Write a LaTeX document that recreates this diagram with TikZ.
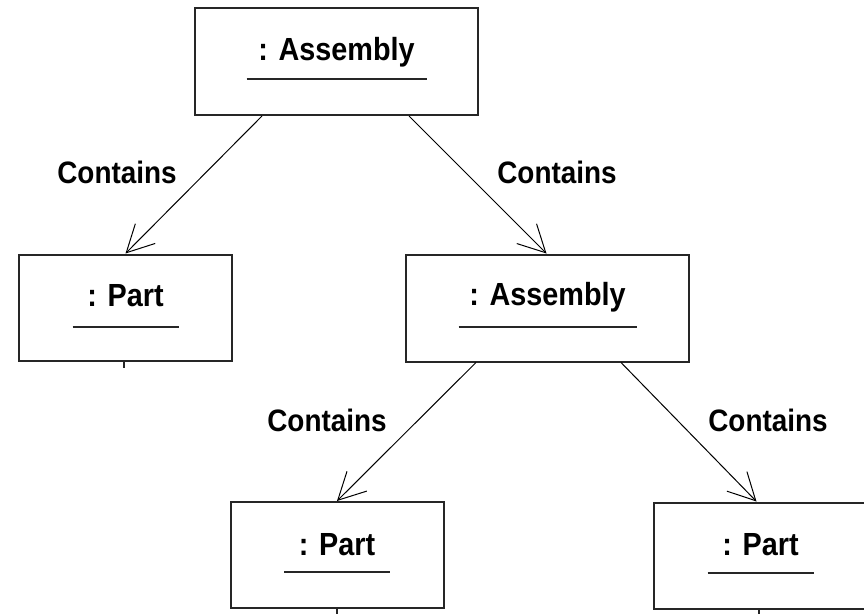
\documentclass[tikz,border=0pt]{standalone}
\usepackage{fontspec}
\newfontfamily\uifont{Liberation Sans}[FakeStretch=0.9]
\usetikzlibrary{arrows.meta}

\tikzset{
  objbox/.style={draw=black!85, line width=2pt, inner sep=0pt, fill=white},
  wide/.style={objbox, minimum width=283pt, minimum height=107pt},
  narrow/.style={objbox, minimum width=213pt, minimum height=106pt},
  objname/.style={font=\uifont\bfseries\fontsize{32}{36}\selectfont, inner sep=0pt, anchor=base},
  uline/.style={line width=2pt, draw=black!85},
  tick/.style={line width=1.5pt, draw=black!85},
  contains/.style={draw=black, line width=1pt,
    -{Straight Barb[length=27pt, width=28pt, line width=1pt]}},
  rolename/.style={font=\uifont\bfseries\fontsize{31}{36}\selectfont, inner sep=0pt, anchor=base}
}

\begin{document}
\begin{tikzpicture}[x=1pt, y=-1pt]
  \useasboundingbox[fill=white] (0,0) rectangle (864,613);

  % object boxes
  \node[wide]   (asm1)  at (336.5, 61.5) {};
  \node[narrow] (part1) at (125.5, 307.5) {};
  \node[wide]   (asm2)  at (547.5, 308) {};
  \node[narrow] (part2) at (337, 555) {};
  \node[narrow] (part3) at (760.5, 555.5) {};

  % object names, underlined
  \node[objname] (asm1t)  at ([yshift=1.5pt]asm1.center)  {: Assembly};
  \node[objname] (part1t) at ([yshift=1.5pt]part1.center) {: Part};
  \node[objname] (asm2t)  at ([yshift=3pt]asm2.center)    {: Assembly};
  \node[objname] (part2t) at ([yshift=0pt]part2.center)   {: Part};
  \node[objname] (part3t) at ([yshift=0pt]part3.center)   {: Part};

  \draw[uline] ([xshift=-90pt,yshift=-17.5pt]asm1.center) -- ([xshift=90pt,yshift=-17.5pt]asm1.center);
  \draw[uline] ([xshift=-53pt,yshift=-19.5pt]part1.center) -- ([xshift=53pt,yshift=-19.5pt]part1.center);
  \draw[uline] ([xshift=-89pt,yshift=-19pt]asm2.center) -- ([xshift=89pt,yshift=-19pt]asm2.center);
  \draw[uline] ([xshift=-53pt,yshift=-17pt]part2.center) -- ([xshift=53pt,yshift=-17pt]part2.center);
  \draw[uline] ([xshift=-53pt,yshift=-17pt]part3.center) -- ([xshift=53pt,yshift=-17pt]part3.center);

  % short stubs under the part boxes
  \draw[tick] ([xshift=-1.5pt]part1.south) -- ++(0,6);
  \draw[tick] (part2.south) -- ++(0,6);
  \draw[tick] ([xshift=-1.5pt]part3.south) -- ++(0,6);

  % containment links
  \draw[contains] ([xshift=68pt]asm1.south west)  -- (part1.north);
  \draw[contains] ([xshift=-70pt]asm1.south east) -- ([xshift=-1pt]asm2.north);
  \draw[contains] ([xshift=71pt]asm2.south west)  -- (part2.north);
  \draw[contains] ([xshift=-69pt]asm2.south east) -- ([xshift=-4pt]part3.north);

  % link labels
  \node[rolename] (c1) at (117, 183) {Contains};
  \node[rolename] (c2) at (557, 183) {Contains};
  \node[rolename] (c3) at (327, 431) {Contains};
  \node[rolename] (c4) at (768, 431) {Contains};
\end{tikzpicture}
\end{document}
